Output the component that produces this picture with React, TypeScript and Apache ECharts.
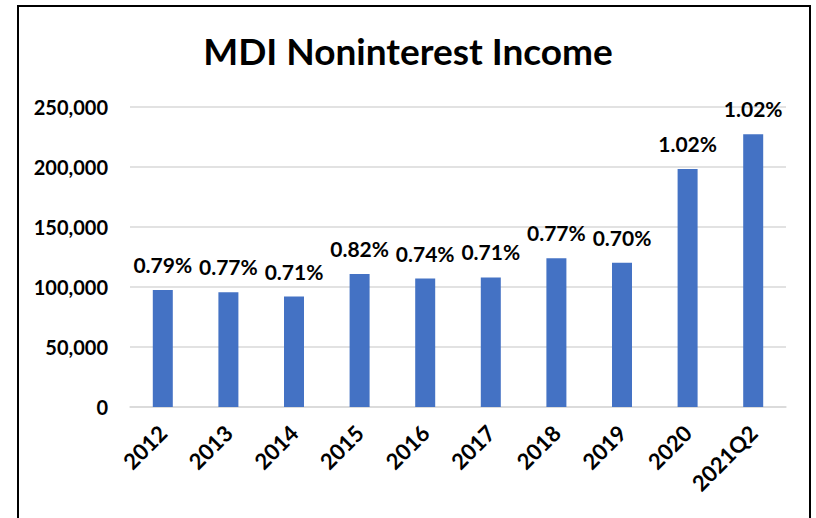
import React, { useEffect, useRef } from "react";
import * as echarts from "echarts";

const categories = ["2012", "2013", "2014", "2015", "2016", "2017", "2018", "2019", "2020", "2021Q2"];
const incomeValues = [97500, 95600, 92000, 110800, 107000, 108000, 123900, 120300, 198300, 227200];
const ratioLabels = ["0.79%", "0.77%", "0.71%", "0.82%", "0.74%", "0.71%", "0.77%", "0.70%", "1.02%", "1.02%"];
const titleText = "MDI Noninterest Income";

const FONT = "Lato, 'Open Sans', sans-serif";

export default function App() {
  const ref = useRef<HTMLDivElement>(null);
  useEffect(() => {
    if (!ref.current) return;
    const chart = echarts.init(ref.current, null, { renderer: "svg" });
    chart.setOption({
      animation: false,
      backgroundColor: "#ffffff",
      title: {
        text: titleText,
        left: "center",
        top: 27,
        textStyle: { fontFamily: FONT, fontWeight: "bold", fontSize: 37, color: "#000" },
      },
      graphic: [
        {
          type: "rect",
          shape: { x: 18, y: 6, width: 792, height: 530 },
          style: { fill: "none", stroke: "#000", lineWidth: 2 },
          silent: true,
        },
      ],
      grid: { left: 130, right: 30, top: 107, bottom: 111 },
      xAxis: {
        type: "category",
        data: categories,
        axisTick: { show: false },
        axisLine: { show: true, lineStyle: { color: "#d9d9d9", width: 1.5 } },
        axisLabel: {
          rotate: 45,
          margin: 22,
          fontFamily: FONT,
          fontWeight: "bold",
          fontSize: 22,
          color: "#000",
        },
      },
      yAxis: {
        type: "value",
        min: 0,
        max: 250000,
        interval: 50000,
        axisLine: { show: false },
        axisTick: { show: false },
        splitLine: { lineStyle: { color: "#d9d9d9", width: 1.5 } },
        axisLabel: {
          margin: 22,
          fontFamily: FONT,
          fontWeight: "bold",
          fontSize: 20,
          color: "#000",
          formatter: (v: number) => v.toLocaleString("en-US"),
        },
      },
      series: [
        {
          type: "bar",
          data: incomeValues,
          barWidth: 20,
          itemStyle: { color: "#4472C4" },
          label: {
            show: true,
            position: "top",
            distance: 15,
            fontFamily: FONT,
            fontWeight: "bold",
            fontSize: 21,
            color: "#000",
            formatter: (p: any) => ratioLabels[p.dataIndex],
          },
        },
      ],
    });
    return () => chart.dispose();
  }, []);
  return (
    <div style={{ position: "absolute", left: 0, top: 0, width: 816, height: 518 }}>
      <div ref={ref} style={{ width: 816, height: 518 }} />
    </div>
  );
}
